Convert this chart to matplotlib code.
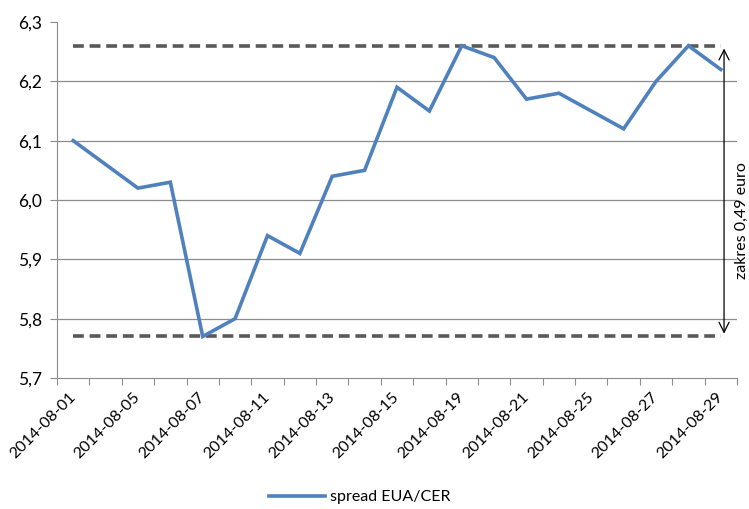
import matplotlib
matplotlib.use("Agg")
import matplotlib.pyplot as plt
import numpy as np

dates = ["2014-08-01", "2014-08-04", "2014-08-05", "2014-08-06", "2014-08-07",
         "2014-08-08", "2014-08-11", "2014-08-12", "2014-08-13", "2014-08-14",
         "2014-08-15", "2014-08-18", "2014-08-19", "2014-08-20", "2014-08-21",
         "2014-08-22", "2014-08-25", "2014-08-26", "2014-08-27", "2014-08-28",
         "2014-08-29"]
spread = [6.10, 6.06, 6.02, 6.03, 5.77, 5.80, 5.94, 5.91, 6.04, 6.05,
          6.19, 6.15, 6.26, 6.24, 6.17, 6.18, 6.15, 6.12, 6.20, 6.26, 6.22]
max_level = 6.26
min_level = 5.77
range_label = "zakres 0,49 euro"
legend_label = "spread EUA/CER"
yticks = [5.7, 5.8, 5.9, 6.0, 6.1, 6.2, 6.3]

plt.rcParams['font.family'] = ['Lato', 'DejaVu Sans']

fig = plt.figure(figsize=(7.49, 5.09), dpi=100)
ax = fig.add_axes([57/749, (509-378)/509, (737-57)/749, (378-22)/509])

n = len(dates)
x = np.arange(n)

ax.set_xlim(-0.5, n - 0.5)
ax.set_ylim(5.7, 6.3)

for v in yticks[1:-1]:
    ax.axhline(v, color="#8c8c8c", lw=0.9, zorder=1)

ax.plot([0, n - 1], [max_level, max_level], color="#595959", lw=2.6,
        ls=(0, (3, 1.6)), zorder=2)
ax.plot([0, n - 1], [min_level, min_level], color="#595959", lw=2.6,
        ls=(0, (3, 1.6)), zorder=2)

line, = ax.plot(x, spread, color="#4F81BD", lw=2.6, zorder=3,
                solid_joinstyle="miter", label=legend_label)

ax.annotate("", xy=(n - 1 + 0.1, max_level), xytext=(n - 1 + 0.1, min_level),
            arrowprops=dict(arrowstyle="<->", color="black", lw=0.9,
                            mutation_scale=18), zorder=4)
ax.text(n - 1 + 0.66, 5.965, range_label, rotation=90, ha="center", va="center",
        fontsize=11.5, color="black", clip_on=False)

ax.set_yticks(yticks)
ax.set_yticklabels([f"{v:.1f}".replace(".", ",") for v in yticks], fontsize=12.5)

ax.set_xticks(np.arange(n + 1) - 0.5)
ax.set_xticklabels([])
ax.set_xticks(x[::2], minor=True)
ax.set_xticklabels([dates[i] for i in range(0, n, 2)], minor=True,
                   rotation=45, ha="right", va="center", rotation_mode="anchor",
                   fontsize=11.5)
ax.tick_params(axis="x", which="minor", length=0, pad=12)
ax.tick_params(axis="x", which="major", length=5, color="#8c8c8c", direction="out")
ax.tick_params(axis="y", length=5, color="#8c8c8c", direction="out", pad=6)

for s in ["top", "right"]:
    ax.spines[s].set_visible(False)
ax.spines["left"].set_color("#8c8c8c")
ax.spines["bottom"].set_color("#8c8c8c")

fig.legend(handles=[line], loc="center", bbox_to_anchor=(360/749, 1 - 497/509),
           frameon=False, fontsize=11.5, handlelength=3.5, handletextpad=0.3)

fig.savefig("out.png", dpi=100)
